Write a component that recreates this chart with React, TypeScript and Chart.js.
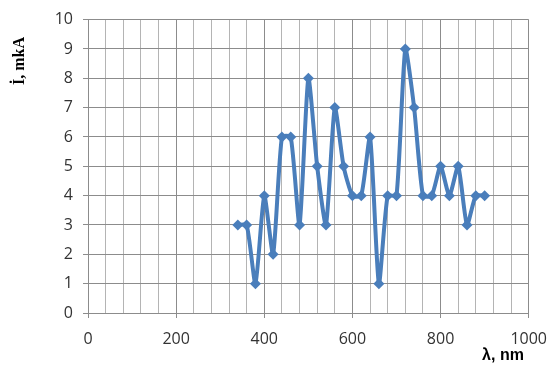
import React, { useEffect, useRef } from "react";
import { Chart, registerables } from "chart.js";

Chart.register(...registerables);

const wavelengths: number[] = [340, 360, 380, 400, 420, 440, 460, 480, 500, 520, 540, 560, 580, 600, 620, 640, 660, 680, 700, 720, 740, 760, 780, 800, 820, 840, 860, 880, 900];
const currents: number[] = [3, 3, 1, 4, 2, 6, 6, 3, 8, 5, 3, 7, 5, 4, 4, 6, 1, 4, 4, 9, 7, 4, 4, 5, 4, 5, 3, 4, 4];
const xTitle = "λ, nm";
const yTitle = "İ, mkA";

const W = 559;
const H = 371;

export default function App() {
  const ref = useRef<HTMLCanvasElement | null>(null);
  useEffect(() => {
    if (!ref.current) return;
    const titles = {
      id: "titles",
      afterDraw(chart: any) {
        const ctx = chart.ctx;
        ctx.save();
        ctx.fillStyle = "#000";
        ctx.font = "bold 16px 'Liberation Serif'";
        ctx.textAlign = "center";
        ctx.textBaseline = "middle";
        ctx.translate(20, 61);
        ctx.rotate(-Math.PI / 2);
        ctx.fillText(yTitle, 0, 0);
        ctx.restore();
        ctx.save();
        ctx.fillStyle = "#000";
        ctx.font = "bold 16px 'Liberation Sans'";
        ctx.textAlign = "center";
        ctx.textBaseline = "middle";
        ctx.fillText(xTitle, 503, 356);
        ctx.restore();
      },
    };
    const chart = new Chart(ref.current, {
      type: "line",
      data: {
        datasets: [
          {
            data: wavelengths.map((x, i) => ({ x, y: currents[i] })),
            borderColor: "#4A7EBB",
            backgroundColor: "#4A7EBB",
            borderWidth: 4,
            pointStyle: "rectRot",
            pointRadius: 5.5,
            pointBorderWidth: 0,
            tension: 0.2,
            fill: false,
          },
        ],
      },
      options: {
        animation: false,
        responsive: false,
        maintainAspectRatio: false,
        layout: { padding: { left: 0, top: 14, right: 29, bottom: 0 } },
        plugins: { legend: { display: false }, tooltip: { enabled: false } },
        scales: {
          x: {
            type: "linear",
            min: 0,
            max: 1000,
            afterFit: (s: any) => { s.height = H - 313; },
            ticks: {
              stepSize: 40,
              autoSkip: false,
              maxRotation: 0,
              padding: 12,
              color: "#333333",
              font: { family: "'Open Sans'", size: 16 },
              callback: (v: any) => (Number(v) % 200 === 0 ? String(v) : ""),
            },
            grid: {
              color: (c: any) => (c.tick && c.tick.value % 200 === 0 ? "#8c8c8c" : "#b4b4b4"),
              tickColor: (c: any) => (c.tick && c.tick.value % 200 === 0 ? "#8c8c8c" : "rgba(0,0,0,0)"),
              tickLength: 5,
              lineWidth: 1,
            },
            border: { color: "#8c8c8c" },
          },
          y: {
            min: 0,
            max: 10,
            afterFit: (s: any) => { s.width = 88; },
            ticks: {
              stepSize: 1,
              padding: 10,
              color: "#333333",
              font: { family: "'Open Sans'", size: 16 },
            },
            grid: { color: "#8c8c8c", tickLength: 5, lineWidth: 1 },
            border: { color: "#8c8c8c" },
          },
        },
      },
      plugins: [titles],
    });
    return () => chart.destroy();
  }, []);
  return (
    <div style={{ position: "fixed", left: 0, top: 0, width: W, height: H, background: "#fff" }}>
      <canvas ref={ref} width={W} height={H} style={{ width: W, height: H, display: "block" }} />
    </div>
  );
}
